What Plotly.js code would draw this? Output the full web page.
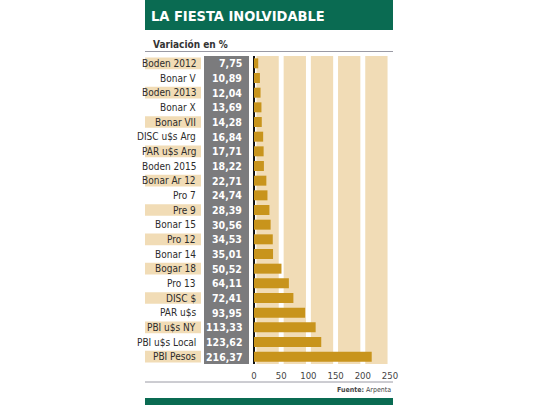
<!DOCTYPE html>
<html>
<head>
<meta charset="utf-8">
<script src="https://cdn.plot.ly/plotly-3.0.1.min.js"></script>
<style>
  html, body { margin: 0; padding: 0; background: #fff; }
  #chart { width: 540px; height: 405px; }
</style>
</head>
<body>
<div id="chart"></div>
<script>
// bonds, top to bottom
var bonos = ['Boden 2012', 'Bonar V', 'Boden 2013', 'Bonar X', 'Bonar VII', 'DISC u$s Arg',
  'PAR u$s Arg', 'Boden 2015', 'Bonar Ar 12', 'Pro 7', 'Pre 9', 'Bonar 15', 'Pro 12',
  'Bonar 14', 'Bogar 18', 'Pro 13', 'DISC $', 'PAR u$s', 'PBI u$s NY', 'PBI u$s Local', 'PBI Pesos'];
var variacion = [7.75, 10.89, 12.04, 13.69, 14.28, 16.84, 17.71, 18.22, 22.71, 24.74, 28.39,
  30.56, 34.53, 35.01, 50.52, 64.11, 72.41, 93.95, 113.33, 123.62, 216.37];
var ticks = [0, 50, 100, 150, 200, 250];

var W = 540, H = 405;
var L = 145, R = 145, T = 56, B = 41;
var font = '"DejaVu Sans Condensed", "Roboto", sans-serif';
var verde = '#0a6b52', beige = '#f1dcb6', oro = '#c8941c', gris = '#7b7b7d';

// pixel -> paper helpers
function fx(px) { return (px - L) / (W - L - R); }
function fy(py) { return (H - B - py) / (H - T - B); }

var rows = bonos.map(function (d, i) { return i; });

var trace = {
  type: 'bar',
  orientation: 'h',
  x: variacion,
  y: rows,
  marker: {color: oro},
  hoverinfo: 'x'
};

var shapes = [];
var annotations = [];

// header band
shapes.push({type: 'rect', xref: 'paper', yref: 'paper', x0: fx(145), x1: fx(393), y0: fy(30), y1: fy(0),
  fillcolor: verde, line: {width: 0}, layer: 'below'});
// footer band
shapes.push({type: 'rect', xref: 'paper', yref: 'paper', x0: fx(145), x1: fx(393), y0: fy(405), y1: fy(398),
  fillcolor: verde, line: {width: 0}, layer: 'below'});
// rules
shapes.push({type: 'line', xref: 'paper', yref: 'paper', x0: fx(145), x1: fx(393), y0: fy(51.5), y1: fy(51.5),
  line: {color: '#9a9aa4', width: 1}});
shapes.push({type: 'line', xref: 'paper', yref: 'paper', x0: fx(145), x1: fx(393), y0: fy(382), y1: fy(382),
  line: {color: '#9a9aa4', width: 1}});

// beige stripes behind bars
for (var k = 0; k < ticks.length - 1; k++) {
  shapes.push({type: 'rect', xref: 'x', yref: 'paper', x0: ticks[k] + 4.5, x1: ticks[k + 1] - 4.5, y0: 0, y1: 1,
    fillcolor: beige, line: {width: 0}, layer: 'below'});
}
// gray value column
shapes.push({type: 'rect', xref: 'paper', yref: 'paper', x0: fx(204), x1: fx(249), y0: 0, y1: 1,
  fillcolor: gris, line: {width: 0}, layer: 'below'});

bonos.forEach(function (b, i) {
  if (i % 2 === 0) {
    shapes.push({type: 'rect', xref: 'paper', yref: 'y', x0: fx(145), x1: fx(201), y0: i - 0.4, y1: i + 0.4,
      fillcolor: beige, line: {width: 0}, layer: 'below'});
  }
  annotations.push({xref: 'paper', yref: 'y', x: fx(198), y: i, text: b, showarrow: false,
    xanchor: 'right', yanchor: 'middle', font: {family: font, size: 10, color: '#2b2b2b'}});
  annotations.push({xref: 'paper', yref: 'y', x: fx(244), y: i, text: variacion[i].toFixed(2).replace('.', ','),
    showarrow: false, xanchor: 'right', yanchor: 'middle',
    font: {family: font, size: 10.5, color: '#ffffff', weight: 'bold'}});
});

annotations.push({xref: 'paper', yref: 'paper', x: fx(151), y: fy(44), text: 'Variación en %', showarrow: false,
  xanchor: 'left', yanchor: 'middle', font: {family: font, size: 10, color: '#333333', weight: 'bold'}});
annotations.push({xref: 'paper', yref: 'paper', x: fx(393), y: fy(390), showarrow: false,
  text: '<b>Fuente:</b> Arpenta', xanchor: 'right', yanchor: 'middle',
  font: {family: font, size: 7, color: '#444444'}});

var layout = {
  width: W,
  height: H,
  margin: {l: L, r: R, t: T, b: B, pad: 0},
  paper_bgcolor: '#ffffff',
  plot_bgcolor: 'rgba(0,0,0,0)',
  showlegend: false,
  bargap: 0.32,
  title: {
    text: 'LA FIESTA INOLVIDABLE',
    x: 151 / W, xanchor: 'left', xref: 'container',
    y: 1 - 16 / H, yanchor: 'middle', yref: 'container',
    font: {family: font, size: 14.5, color: '#ffffff', weight: 'bold'}
  },
  xaxis: {
    domain: [fx(254), fx(390)],
    range: [0, 250],
    tickvals: ticks,
    ticktext: ticks.map(String),
    showgrid: false,
    zeroline: true,
    zerolinecolor: '#111111',
    zerolinewidth: 1.5,
    ticks: '',
    ticklabelstandoff: 4,
    tickfont: {family: font, size: 9.5, color: '#444444'},
    fixedrange: true
  },
  yaxis: {
    range: [bonos.length - 0.5, -0.5],
    showticklabels: false,
    showgrid: false,
    zeroline: false,
    ticks: '',
    fixedrange: true
  },
  shapes: shapes,
  annotations: annotations
};

Plotly.newPlot('chart', [trace], layout, {displayModeBar: false, staticPlot: true});
</script>
</body>
</html>
